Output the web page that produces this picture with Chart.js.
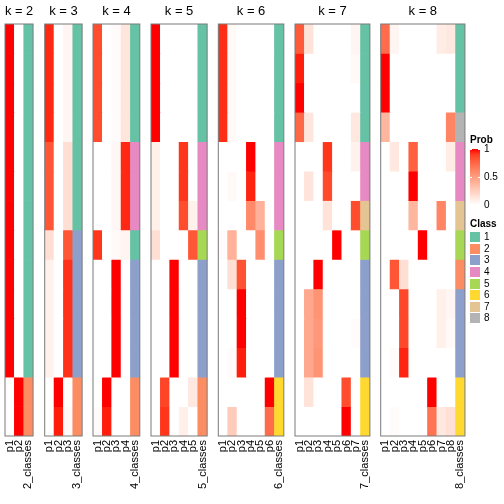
<!DOCTYPE html>
<html>
<head>
<meta charset="utf-8">
<script src="https://cdn.jsdelivr.net/npm/chart.js@4.4.1/dist/chart.umd.min.js"></script>
<style>
  html, body { margin: 0; padding: 0; background: #fff; }
  #wrap { position: relative; width: 504px; height: 504px; overflow: hidden;
          font-family: "Liberation Sans", Arial, sans-serif; }
  #wrap canvas { position: absolute; top: 0; }
  .lg { position: absolute; font-size: 10px; line-height: 12px; color: #000; white-space: nowrap; }
  .lg.b { font-weight: bold; }
</style>
</head>
<body>
<div id="wrap"></div>
<script>
// ---- data ----
const kValues = [2, 3, 4, 5, 6, 7, 8];
const memberLabels = ['p1', 'p2', 'p3', 'p4', 'p5', 'p6', 'p7', 'p8'];
const classNames = ['1', '2', '3', '4', '5', '6', '7', '8'];
const classColors = ['#66C2A5', '#FC8D62', '#8DA0CB', '#E78AC3', '#A6D854', '#FFD92F', '#E5C494', '#B3B3B3'];
const probTicks = [1, 0.5, 0];

// predicted class of each of the 14 samples
const classK2 = [1,1,1,1,1,1,1,1,1,1,1,1,2,2];
const classK3 = [1,1,1,1,1,1,1,3,3,3,3,3,2,2];
const classK4 = [1,1,1,1,4,4,4,1,3,3,3,3,2,2];
const classK5 = [1,1,1,1,4,4,4,5,3,3,3,3,2,2];
const classK6 = [1,1,1,1,4,4,4,5,3,3,3,3,6,6];
const classK7 = [1,1,1,1,4,4,7,5,3,3,3,3,6,6];
const classK8 = [1,1,1,8,4,4,7,5,2,3,3,3,6,6];

// membership probabilities, one row per sample (p1..pk)
const probK2 = [
  [1,0],[1,0],[1,0],[1,0],[1,0],[1,0],[1,0],[1,0],[1,0],[1,0],[1,0],[1,0],
  [0,1],[0,1]
];
const probK3 = [
  [0.95,0,0.05],[0.95,0,0.05],[0.95,0,0.05],[0.95,0,0.05],
  [0.82,0,0.17],[0.82,0,0.17],[0.82,0,0.17],
  [0.17,0,0.82],
  [0.07,0,0.93],[0.07,0,0.93],[0.07,0,0.93],[0.07,0,0.93],
  [0,1,0],[0,0.97,0.02]
];
const probK4 = [
  [0.85,0,0.02,0.13],[0.85,0,0.02,0.13],[0.85,0,0.02,0.13],[0.85,0,0.02,0.13],
  [0,0,0.04,0.95],[0,0,0.04,0.95],[0,0,0.04,0.95],
  [0.92,0,0.03,0.06],
  [0,0,1,0],[0,0,1,0],[0,0,1,0],[0,0,1,0],
  [0,1,0,0],[0.02,0.97,0,0]
];
const probK5 = [
  [1,0,0,0,0],[1,0,0,0,0],[1,0,0,0,0],[1,0,0,0,0],
  [0.08,0,0,0.92,0],[0.08,0,0,0.92,0],
  [0.08,0,0,0.85,0.07],
  [0.17,0,0,0,0.82],
  [0,0,1,0,0],[0,0,1,0,0],[0,0,1,0,0],[0,0,1,0,0],
  [0,0.88,0,0,0.12],[0,0.92,0,0.08,0]
];
const probK6 = [
  [0.94,0.03,0,0,0,0],[0.94,0.03,0,0,0,0],[0.94,0.03,0,0,0,0],[0.94,0.03,0,0,0,0],
  [0,0,0,1,0,0],
  [0,0.03,0,0.96,0,0],
  [0,0,0,0.6,0.4,0],
  [0.02,0.4,0,0,0.58,0],
  [0,0.17,0.83,0,0,0],
  [0,0,1,0,0,0],[0,0,1,0,0,0],
  [0,0.02,0.97,0,0,0],
  [0,0,0,0,0,1],
  [0,0.27,0,0,0,0.73]
];
const probK7 = [
  [0.8,0.15,0,0,0,0,0.05],
  [0.97,0,0,0,0,0,0.03],
  [1,0,0,0,0,0,0],
  [0.75,0.13,0,0,0,0,0.12],
  [0,0,0,0.92,0,0,0.07],
  [0,0.14,0,0.86,0,0,0],
  [0,0,0,0.15,0,0,0.85],
  [0,0,0,0,1,0,0],
  [0,0,1,0,0,0,0],
  [0,0.45,0.55,0,0,0,0],
  [0,0.45,0.53,0,0,0,0.02],
  [0,0.45,0.55,0,0,0,0],
  [0,0.15,0,0,0,0.85,0],
  [0,0,0,0,0,1,0]
];
const probK8 = [
  [0.73,0.05,0,0,0,0,0.1,0.12],
  [1,0,0,0,0,0,0,0],
  [1,0,0,0,0,0,0,0],
  [0.38,0,0,0,0,0,0,0.62],
  [0,0.12,0,0.78,0,0,0,0.1],
  [0,0,0,1,0,0,0,0],
  [0,0,0,0.38,0,0,0.62,0],
  [0,0,0,0,1,0,0,0],
  [0,0.82,0.17,0,0,0,0,0],
  [0,0,0.87,0,0,0,0.08,0.05],
  [0,0,0.87,0,0,0,0.08,0.03],
  [0,0.02,0.96,0,0,0,0,0],
  [0,0,0,0,0,1,0,0],
  [0,0.02,0,0,0,0.7,0.12,0.16]
];

const probByK  = [probK2, probK3, probK4, probK5, probK6, probK7, probK8];
const classByK = [classK2, classK3, classK4, classK5, classK6, classK7, classK8];

// ---- layout ----
const panelX = [5, 44.7, 93, 151, 218.3, 295, 380.7];
const colW = 9.36;
const PAD = 14;
const FONT = '"Liberation Sans", Arial, sans-serif';

// white -> red in Lab space
function toLin(c) { c /= 255; return c <= 0.04045 ? c / 12.92 : Math.pow((c + 0.055) / 1.055, 2.4); }
function toSrgb(c) { c = Math.min(1, Math.max(0, c)); return 255 * (c <= 0.0031308 ? 12.92 * c : 1.055 * Math.pow(c, 1 / 2.4) - 0.055); }
function rgbToLab(r, g, b) {
    r = toLin(r); g = toLin(g); b = toLin(b);
    const x = (0.4124 * r + 0.3576 * g + 0.1805 * b) / 0.95047;
    const y = (0.2126 * r + 0.7152 * g + 0.0722 * b);
    const z = (0.0193 * r + 0.1192 * g + 0.9505 * b) / 1.08883;
    const f = t => t > 0.008856 ? Math.cbrt(t) : 7.787 * t + 16 / 116;
    return [116 * f(y) - 16, 500 * (f(x) - f(y)), 200 * (f(y) - f(z))];
}
function labToRgb(L, a, b) {
    const fy = (L + 16) / 116, fx = fy + a / 500, fz = fy - b / 200;
    const inv = t => t > 0.206893 ? t * t * t : (t - 16 / 116) / 7.787;
    const x = inv(fx) * 0.95047, y = inv(fy), z = inv(fz) * 1.08883;
    const r =  3.2406 * x - 1.5372 * y - 0.4986 * z;
    const g = -0.9689 * x + 1.8758 * y + 0.0415 * z;
    const bb = 0.0557 * x - 0.2040 * y + 1.0570 * z;
    return [toSrgb(r), toSrgb(g), toSrgb(bb)].map(Math.round);
}
const labWhite = rgbToLab(255, 255, 255);
const labRed = rgbToLab(255, 0, 0);
function probColor(v) {
    const L = labWhite.map((w, i) => w + (labRed[i] - w) * v);
    const c = labToRgb(L[0], L[1], L[2]);
    return `rgb(${c[0]},${c[1]},${c[2]})`;
}

const panelBorder = {
    id: 'panelBorder',
    afterDatasetsDraw(chart) {
        const a = chart.chartArea, ctx = chart.ctx;
        ctx.save();
        ctx.strokeStyle = '#7a7a7a';
        ctx.lineWidth = 1;
        ctx.strokeRect(a.left, a.top, a.right - a.left, a.bottom - a.top);
        ctx.restore();
    }
};

const wrap = document.getElementById('wrap');

kValues.forEach((k, i) => {
    const probs = probByK[i];
    const classes = classByK[i];
    const labels = memberLabels.slice(0, k).concat(k + '_classes');
    const w = labels.length * colW;
    const px = panelX[i];
    const left = Math.floor(px) - PAD;
    const cw = Math.ceil(w) + 2 * PAD + 2;

    const canvas = document.createElement('canvas');
    canvas.width = cw; canvas.height = 504;
    canvas.style.left = left + 'px';
    wrap.appendChild(canvas);

    new Chart(canvas, {
        type: 'bar',
        data: {
            labels: labels,
            datasets: probs.map((row, r) => ({
                data: labels.map(() => [r, r + 1]),
                backgroundColor: row.map(probColor).concat(classColors[classes[r] - 1]),
                borderWidth: 0,
                grouped: false,
                barPercentage: 1,
                categoryPercentage: 1
            }))
        },
        options: {
            responsive: false,
            animation: false,
            devicePixelRatio: 1,
            events: [],
            layout: { padding: { left: px - left, right: cw - (px - left) - w, top: 0, bottom: 0 } },
            plugins: {
                legend: { display: false },
                tooltip: { enabled: false },
                title: { display: true, text: 'k = ' + k, color: '#000',
                         font: { family: FONT, size: 13, weight: 'normal' },
                         padding: { top: 4, bottom: 4.4 } }
            },
            scales: {
                x: {
                    grid: { display: false, drawTicks: false },
                    border: { display: false },
                    ticks: { color: '#000', font: { family: FONT, size: 11 }, padding: 4,
                             minRotation: 90, maxRotation: 90, autoSkip: false },
                    afterFit(scale) { scale.height = 68; scale.paddingLeft = 0; scale.paddingRight = 0; }
                },
                y: { display: false, min: 0, max: probs.length, reverse: true }
            }
        },
        plugins: [panelBorder]
    });
});

// ---- legends ----
function addText(text, x, y, bold) {
    const d = document.createElement('div');
    d.className = 'lg' + (bold ? ' b' : '');
    d.textContent = text;
    d.style.left = x + 'px';
    d.style.top = (y - 6) + 'px';
    wrap.appendChild(d);
}
function addBox(x, y, w, h, bg) {
    const d = document.createElement('div');
    d.style.cssText = `position:absolute;left:${x}px;top:${y}px;width:${w}px;height:${h}px;background:${bg}`;
    wrap.appendChild(d);
}

addText('Prob', 470, 140, true);
const gTop = 149, gH = 56;
const stops = [];
for (let s = 0; s <= 10; s++) stops.push(probColor(s / 10) + ' ' + (s * 10) + '%');
addBox(470, gTop, 10, gH, 'linear-gradient(to top,' + stops.join(',') + ')');
probTicks.forEach(v => {
    const y = gTop + (1 - v) * gH;
    if (v > 0) {
        addBox(470, y, 2, 1, '#fff');
        addBox(478, y, 2, 1, '#fff');
    }
    addText(String(v), 484, y, false);
});

addText('Class', 470, 224, true);
classNames.forEach((name, j) => {
    const y = 232.3 + j * 11.57;
    addBox(470, y, 10, 10, classColors[j]);
    addText(name, 484, y + 5, false);
});
</script>
</body>
</html>
